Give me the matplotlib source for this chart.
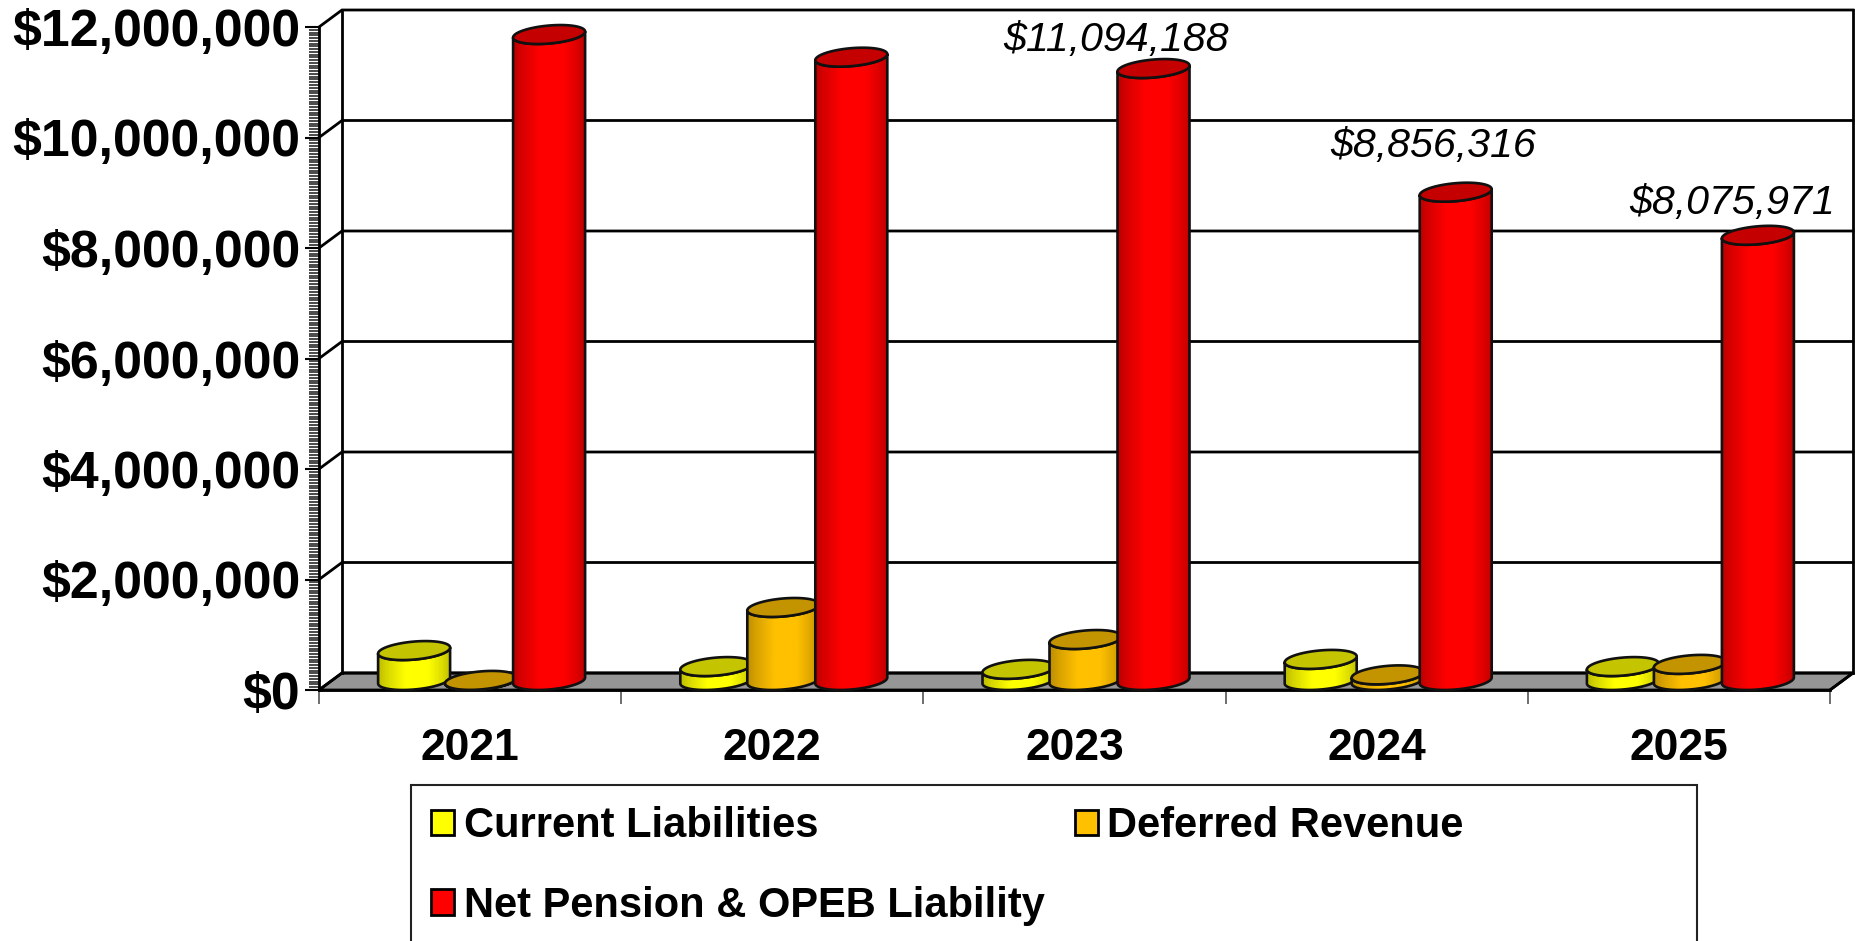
import numpy as np
import matplotlib
matplotlib.use("Agg")
import matplotlib.pyplot as plt
from matplotlib.patches import Polygon, Patch, Rectangle
from matplotlib.ticker import MultipleLocator, FuncFormatter

plt.rcParams['font.family'] = ['Liberation Sans', 'DejaVu Sans']

years = ['2021', '2022', '2023', '2024', '2025']
current_liabilities = [560000, 270000, 220000, 400000, 270000]
deferred_revenue = [20000, 1340000, 760000, 120000, 310000]
net_pension_opeb = [11710000, 11300000, 11094188, 8856316, 8075971]
series_names = ['Current Liabilities', 'Deferred Revenue', 'Net Pension & OPEB Liability']
labelled_years = [2, 3, 4]
labelled_text = ['$11,094,188', '$8,856,316', '$8,075,971']
label_offsets_px = [(-37, 37), (-23, 55), (-26, 41)]

W, H = 1855, 941
L, R, B, T = 319, 1830, 690, 27      # plot box in px from top-left
DEPTH_X, DEPTH_Y = 23, 17
BAR_W = 72
SHIFT = [-56, 11, 79]
SIDE = ['#ffff00', '#ffc000', '#ff0000']
TOP = ['#c4c400', '#c49400', '#c40000']

fig = plt.figure(figsize=(W / 100, H / 100), dpi=100)
ax = fig.add_axes([L / W, (H - B) / H, (R - L) / W, (B - T) / H])
ax.set_xlim(-0.5, 4.5)
ax.set_ylim(0, 12000000)
ax.set_autoscale_on(False)
PX = 5 / (R - L)
PY = 12000000 / (B - T)
DX, DY = DEPTH_X * PX, DEPTH_Y * PY

# walls and floor
x0, x1 = -0.5, 4.5
ax.add_patch(Polygon([(x0, 0), (x1, 0), (x1 + DX, DY), (x0 + DX, DY)], closed=True,
                     facecolor='#969696', edgecolor='black', lw=2, zorder=1, clip_on=False))
for v in range(0, 12000001, 2000000):
    ax.plot([x0, x0 + DX, x1 + DX], [v, v + DY, v + DY], color='black', lw=2,
            zorder=1.2, clip_on=False, solid_joinstyle='miter')
ax.plot([x0 + DX, x0 + DX], [DY, 12000000 + DY], color='black', lw=2, zorder=1.2, clip_on=False)
ax.plot([x1 + DX, x1 + DX], [DY, 12000000 + DY], color='black', lw=2, zorder=1.2, clip_on=False)
ax.plot([x1, x1 + DX], [0, DY], color='black', lw=2, zorder=1.2, clip_on=False)

a_px, b_px, s_px = BAR_W / 2, 9.0, 3.0


def ellipse(cx, cy, t):
    return (cx + a_px * PX * np.cos(t), cy + (b_px * np.sin(t) + s_px * np.cos(t)) * PY)


def cylinder(cx, value, side, top, z):
    base = DY / 2 + PY
    cy_top = DY / 2 + value
    tl = np.linspace(np.pi, 2 * np.pi, 60)
    xb, yb = ellipse(cx, base, tl)
    xt, yt = ellipse(cx, cy_top, tl[::-1])
    body = np.column_stack([np.r_[xb, xt], np.r_[yb, yt]])
    clip = Polygon(body, closed=True, facecolor='none', edgecolor='none', zorder=z)
    ax.add_patch(clip)
    u = np.linspace(0, 1, 128)
    f = np.interp(u, [0, 0.12, 0.38, 0.7, 0.9, 1], [0.74, 0.84, 1, 1, 0.86, 0.76])
    rgb = np.array(matplotlib.colors.to_rgb(side))
    img = (rgb[None, :] * f[:, None])[None, :, :]
    im = ax.imshow(img, extent=(cx - a_px * PX, cx + a_px * PX, 0, cy_top + 12 * PY), aspect='auto',
                   zorder=z, interpolation='bilinear', clip_on=True)
    im.set_clip_path(clip)
    ax.add_patch(Polygon(body, closed=True, facecolor='none', edgecolor='#111111', lw=1.9,
                         zorder=z + 0.01, clip_on=False, joinstyle='round'))
    te = np.linspace(0, 2 * np.pi, 120)
    xe, ye = ellipse(cx, cy_top, te)
    ax.add_patch(Polygon(np.column_stack([xe, ye]), closed=True, facecolor=top, edgecolor='#111111',
                         lw=1.9, zorder=z + 0.02, clip_on=False))


all_series = [current_liabilities, deferred_revenue, net_pension_opeb]
for i in range(len(years)):
    for j, vals in enumerate(all_series):
        cylinder(i + SHIFT[j] * PX, vals[i], SIDE[j], TOP[j], 3 + i + j * 0.1)

for idx, txt, off in zip(labelled_years, labelled_text, label_offsets_px):
    ax.annotate(txt, (idx + SHIFT[2] * PX, net_pension_opeb[idx]), xytext=off,
                textcoords='offset pixels', ha='center', va='center', fontsize=29.6,
                style='italic', color='black', zorder=20, annotation_clip=False)

# axes
ax.yaxis.set_major_locator(MultipleLocator(2000000))
ax.yaxis.set_minor_locator(MultipleLocator(50000))
ax.yaxis.set_major_formatter(FuncFormatter(lambda v, p: f'${v:,.0f}'))
ax.tick_params(axis='y', which='major', length=10, width=1.5, pad=3.5, labelsize=37.4)
ax.tick_params(axis='y', which='minor', length=7, width=1.15, color='#222222')
for t in ax.get_yticklabels():
    t.set_fontweight('bold')
ax.set_xticks(np.arange(-0.5, 5, 1))
ax.set_xticklabels([])
ax.set_xticks(range(len(years)), years, minor=True)
ax.tick_params(axis='x', which='major', length=10, width=1.2, color='#555555')
ax.tick_params(axis='x', which='minor', length=0, pad=27, labelsize=32)
for t in ax.get_xticklabels(minor=True):
    t.set_fontweight('bold')
for s in ('top', 'right'):
    ax.spines[s].set_visible(False)
for s in ('left', 'bottom'):
    ax.spines[s].set_linewidth(2)
    ax.spines[s].set_zorder(2)
ax.patch.set_visible(False)

# legend
fig.add_artist(Rectangle((411 / W, -0.05), (1697 - 411) / W, (H - 785) / H + 0.05,
                         transform=fig.transFigure, facecolor='white', edgecolor='#222222', lw=1.5))
handles = [Patch(facecolor=SIDE[k], edgecolor='black', lw=2) for k in (0, 2, 1)]
names = [series_names[k] for k in (0, 2, 1)]
leg = fig.legend(handles, names, ncol=2, loc='upper left',
                 bbox_to_anchor=(431 / W, (H - 806) / H), bbox_transform=fig.transFigure,
                 frameon=False, borderpad=0, borderaxespad=0,
                 handlelength=0.56, handleheight=0.56, handletextpad=0.22,
                 labelspacing=0.95, columnspacing=0.73,
                 prop={'family': ['Liberation Sans'], 'weight': 'bold', 'size': 30})

fig.savefig('out.png', dpi=100)
